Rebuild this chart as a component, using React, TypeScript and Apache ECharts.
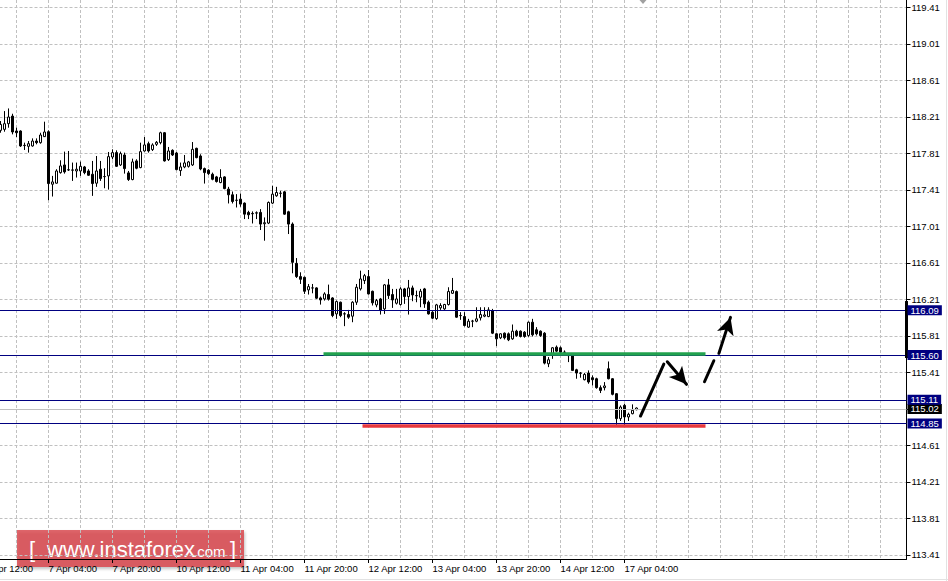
import React, { useEffect, useRef } from "react";
import * as echarts from "echarts";

// ---- data (H1 bars, bar index 0 = 6 Apr 12:00) ----
const firstBar = 4;

const opens = [
  118.062, 118.073, 118.135, 118.218, 118.055, 118.055, 117.898, 117.887, 117.891, 117.945,
  117.927, 117.993, 118.047, 117.472, 117.483, 117.599, 117.683, 117.630, 117.628, 117.617,
  117.617, 117.661, 117.617, 117.581, 117.483, 117.636, 117.556, 117.563, 117.770, 117.818,
  117.683, 117.792, 117.596, 117.523, 117.727, 117.654, 117.836, 117.916, 117.851, 117.909,
  117.927, 118.036, 117.741, 117.843, 117.814, 117.621, 117.661, 117.668, 117.683, 117.865,
  117.781, 117.643, 117.625, 117.581, 117.552, 117.490, 117.552, 117.418, 117.356, 117.297,
  117.308, 117.265, 117.163, 117.152, 117.155, 117.163, 117.039, 117.046, 117.265, 117.345,
  117.374, 117.388, 117.170, 117.035, 116.605, 116.460, 116.452, 116.314, 116.336, 116.336,
  116.226, 116.215, 116.263, 116.226, 116.051, 116.179, 116.052, 116.044, 116.026, 116.179,
  116.325, 116.416, 116.460, 116.299, 116.150, 116.215, 116.106, 116.369, 116.263, 116.168,
  116.154, 116.325, 116.241, 116.336, 116.252, 116.234, 116.325, 116.179, 116.070, 116.000,
  116.117, 116.106, 116.154, 116.277, 116.296, 116.034, 116.022, 115.906, 115.971, 115.971,
  116.008, 116.026, 116.022, 116.088, 115.833, 115.789, 115.840, 115.833, 115.778, 115.862,
  115.862, 115.851, 115.815, 115.960, 115.877, 115.862, 115.840, 115.505, 115.607, 115.687,
  115.680, 115.632, 115.596, 115.596, 115.439, 115.403, 115.330, 115.403, 115.352, 115.341,
  115.243, 115.243, 115.450, 115.341, 115.177, 114.904, 115.049, 114.922, 114.958, 115.002,
];

const closes = [
  118.127, 118.135, 118.208, 118.044, 118.036, 117.891, 117.895, 117.916, 117.945, 117.927,
  118.011, 118.044, 117.479, 117.497, 117.617, 117.672, 117.607, 117.628, 117.626, 117.636,
  117.668, 117.599, 117.570, 117.479, 117.617, 117.534, 117.555, 117.774, 117.818, 117.668,
  117.807, 117.643, 117.523, 117.716, 117.647, 117.829, 117.902, 117.836, 117.902, 117.931,
  118.036, 117.727, 117.836, 117.792, 117.632, 117.661, 117.705, 117.716, 117.854, 117.763,
  117.639, 117.599, 117.588, 117.526, 117.501, 117.545, 117.424, 117.356, 117.283, 117.295,
  117.254, 117.144, 117.137, 117.148, 117.159, 117.035, 117.050, 117.272, 117.363, 117.381,
  117.372, 117.144, 117.035, 116.616, 116.460, 116.430, 116.299, 116.350, 116.335, 116.223,
  116.204, 116.270, 116.212, 116.033, 116.186, 116.033, 116.050, 116.015, 116.179, 116.343,
  116.434, 116.470, 116.270, 116.172, 116.197, 116.088, 116.369, 116.252, 116.204, 116.215,
  116.325, 116.241, 116.336, 116.259, 116.250, 116.299, 116.161, 116.051, 116.004, 116.150,
  116.143, 116.154, 116.296, 116.307, 116.015, 116.032, 115.924, 115.971, 115.973, 115.997,
  116.044, 116.040, 116.095, 115.840, 115.778, 115.833, 115.789, 115.767, 115.862, 115.815,
  115.804, 115.804, 115.960, 115.822, 115.833, 115.815, 115.512, 115.549, 115.680, 115.643,
  115.632, 115.630, 115.594, 115.432, 115.403, 115.401, 115.388, 115.305, 115.330, 115.243,
  115.213, 115.262, 115.341, 115.170, 114.904, 115.031, 114.922, 114.951, 114.995, 115.020,
];

const lows = [
  118.036, 118.047, 118.091, 118.018, 117.989, 117.880, 117.847, 117.818, 117.883, 117.909,
  117.916, 117.989, 117.297, 117.337, 117.479, 117.588, 117.588, 117.617, 117.508, 117.545,
  117.563, 117.581, 117.563, 117.344, 117.443, 117.508, 117.428, 117.413, 117.745, 117.661,
  117.672, 117.588, 117.508, 117.515, 117.636, 117.647, 117.829, 117.818, 117.836, 117.891,
  117.909, 117.720, 117.727, 117.781, 117.625, 117.563, 117.647, 117.654, 117.672, 117.756,
  117.625, 117.479, 117.574, 117.515, 117.490, 117.483, 117.417, 117.261, 117.261, 117.217,
  117.225, 117.090, 117.090, 117.042, 117.090, 116.970, 116.853, 117.035, 117.254, 117.334,
  117.327, 117.137, 116.926, 116.496, 116.445, 116.379, 116.270, 116.263, 116.277, 116.215,
  116.153, 116.197, 116.197, 116.015, 115.997, 116.015, 115.917, 115.997, 115.960, 116.150,
  116.307, 116.379, 116.263, 116.143, 116.124, 116.044, 116.051, 116.215, 116.117, 116.154,
  116.143, 116.161, 116.044, 116.190, 116.179, 116.124, 116.117, 116.044, 115.993, 115.986,
  116.095, 116.095, 116.143, 116.270, 116.008, 115.986, 115.913, 115.898, 115.906, 115.960,
  115.979, 116.015, 116.015, 115.830, 115.698, 115.775, 115.771, 115.753, 115.767, 115.800,
  115.793, 115.790, 115.800, 115.804, 115.815, 115.800, 115.498, 115.468, 115.559, 115.632,
  115.620, 115.596, 115.523, 115.425, 115.341, 115.352, 115.323, 115.286, 115.268, 115.232,
  115.184, 115.213, 115.334, 115.159, 114.831, 114.878, 114.831, 114.878, 114.951, 114.995,
];

const highs = [
  118.164, 118.273, 118.302, 118.244, 118.091, 118.062, 117.927, 117.945, 117.974, 117.974,
  118.036, 118.157, 118.062, 117.563, 117.636, 117.734, 117.829, 117.836, 117.709, 117.709,
  117.720, 117.672, 117.636, 117.727, 117.781, 117.727, 117.647, 117.825, 117.854, 117.843,
  117.829, 117.818, 117.617, 117.752, 117.745, 117.927, 117.989, 117.938, 117.920, 117.945,
  118.047, 118.044, 117.880, 117.854, 117.825, 117.709, 117.792, 117.727, 117.934, 117.872,
  117.800, 117.654, 117.636, 117.599, 117.563, 117.636, 117.559, 117.443, 117.392, 117.363,
  117.370, 117.272, 117.181, 117.174, 117.174, 117.199, 117.108, 117.283, 117.454, 117.443,
  117.399, 117.399, 117.181, 117.053, 116.663, 116.507, 116.460, 116.379, 116.379, 116.343,
  116.241, 116.288, 116.372, 116.234, 116.197, 116.186, 116.070, 116.095, 116.190, 116.379,
  116.525, 116.489, 116.532, 116.306, 116.215, 116.226, 116.379, 116.434, 116.325, 116.325,
  116.343, 116.336, 116.423, 116.361, 116.306, 116.325, 116.336, 116.197, 116.081, 116.161,
  116.168, 116.161, 116.343, 116.445, 116.307, 116.070, 116.070, 115.997, 115.986, 116.124,
  116.124, 116.124, 116.124, 116.106, 115.840, 115.840, 115.848, 115.848, 115.935, 115.877,
  115.870, 115.862, 115.968, 115.997, 115.906, 115.870, 115.851, 115.578, 115.687, 115.705,
  115.695, 115.651, 115.614, 115.614, 115.450, 115.414, 115.403, 115.432, 115.377, 115.352,
  115.268, 115.304, 115.530, 115.348, 115.184, 115.049, 115.067, 114.969, 115.060, 115.027,
];

const timeLabels = [
  "6 Apr 12:00", "7 Apr 04:00", "7 Apr 20:00", "10 Apr 12:00", "11 Apr 04:00", "11 Apr 20:00",
  "12 Apr 12:00", "13 Apr 04:00", "13 Apr 20:00", "14 Apr 12:00", "17 Apr 04:00",
];
const timeLabelBars = [0, 16, 32, 48, 64, 80, 96, 112, 128, 144, 160];

// grid/tick levels of the price scale
const priceTicks = [
  113.41, 113.81, 114.21, 114.61, 115.01, 115.41, 115.81, 116.21,
  116.61, 117.01, 117.41, 117.81, 118.21, 118.61, 119.01, 119.41,
];
// labelled levels (115.01 is hidden under the bid box in the reference)
const priceLabels = [
  113.41, 113.81, 114.21, 114.61, 115.41, 115.81, 116.21,
  116.61, 117.01, 117.41, 117.81, 118.21, 118.61, 119.01, 119.41,
];

const levelLines = [116.09, 115.6, 115.11, 114.85];
const bidPrice = 115.02;

const greenLevel = 115.615;
const greenSpan = [84.75, 180.25];
const redLevel = 114.83;
const redSpan = [94.5, 180.25];

// hand-drawn arrows, [bar, price]
const arrowFrom = [[164, 114.932], [170.7, 115.527], [180, 115.308], [183.6, 115.619]];
const arrowTo = [[169.83, 115.502], [175.5, 115.28], [182.33, 115.538], [186.5, 116.013]];
const arrowHead = [false, true, false, true];

const axisBar = [116.192, 115.568];

const X_MAX = 230.5;
const Y_MIN = 113.366;
const Y_MAX = 119.49;
const FONT = "'Liberation Sans', Arial, sans-serif";
const NAVY = "#000080";

export default function App() {
  const ref = useRef<HTMLDivElement>(null);

  useEffect(() => {
    if (!ref.current) return;
    const chart = echarts.init(ref.current, undefined, { renderer: "svg" });

    const candleData = opens.map((o, i) => [firstBar + i, o, closes[i], lows[i], highs[i]]);

    const gridDash = { color: "#c0c0c0", width: 1, type: [3, 2] as any };

    const arrowData = arrowFrom.map((f, i) => [
      {
        coord: f,
        symbol: "none",
        lineStyle: { color: "#000", width: 3, type: "solid", cap: "round" },
      },
      {
        coord: arrowTo[i],
        symbol: arrowHead[i] ? "arrow" : "none",
        symbolSize: arrowHead[i] ? [13, 17] : 0,
      },
    ]);

    const boxLabel = (bg: string) => ({
      show: true,
      position: "end",
      distance: 1,
      formatter: (p: any) => p.name,
      backgroundColor: bg,
      color: "#ffffff",
      fontSize: 9.5,
      fontFamily: FONT,
      lineHeight: 9,
      padding: [1, 3, 0, 3],
    });

    // level value -> markLine item; snapped to a pixel row through the axis scale
    const levelItem = (v: number, snap: boolean, color: string) => {
      let y = v;
      if (snap) {
        const px = chart.convertToPixel({ yAxisIndex: 0 }, v) as number;
        y = chart.convertFromPixel({ yAxisIndex: 0 }, Math.round(px - 0.5) + 0.5) as number;
      }
      return {
        yAxis: y,
        name: v.toFixed(2),
        lineStyle: { color, width: 1, type: "solid", opacity: 1 },
        label: boxLabel(color === NAVY ? NAVY : "#000000"),
      };
    };

    const buildOption = (snap: boolean): any => ({
      animation: false,
      backgroundColor: "#ffffff",
      grid: {
        left: -15.5,
        right: 41.5,
        top: 0,
        bottom: 22,
        containLabel: false,
        outerBoundsMode: "none",
      },
      xAxis: [
        {
          type: "value",
          min: 0,
          max: X_MAX,
          position: "bottom",
          axisLine: { show: true, onZero: false, lineStyle: { color: "#000", width: 1 } },
          axisTick: {
            show: true,
            length: 4,
            customValues: timeLabelBars,
            lineStyle: { color: "#000", width: 1 },
          },
          axisLabel: {
            show: true,
            customValues: timeLabelBars,
            formatter: (v: number) => {
              const idx = timeLabelBars.indexOf(Math.round(v));
              return idx >= 0 ? timeLabels[idx] : "";
            },
            align: "left",
            margin: 4,
            color: "#000",
            fontSize: 9.5,
            fontFamily: FONT,
          },
          splitLine: { show: false },
        },
        {
          type: "value",
          min: 0,
          max: X_MAX,
          interval: 8,
          position: "top",
          axisLine: { show: false },
          axisTick: { show: false },
          axisLabel: { show: false },
          splitLine: { show: true, lineStyle: gridDash },
        },
      ],
      yAxis: {
        type: "value",
        position: "right",
        min: Y_MIN,
        max: Y_MAX,
        axisLine: { show: true, onZero: false, lineStyle: { color: "#000", width: 1 } },
        axisTick: {
          show: true,
          length: 4,
          customValues: priceTicks,
          lineStyle: { color: "#000", width: 1 },
        },
        axisLabel: {
          show: true,
          customValues: priceLabels,
          formatter: (v: number) => v.toFixed(2),
          margin: 5,
          color: "#000",
          fontSize: 9.5,
          fontFamily: FONT,
        },
        splitLine: { show: true, lineStyle: gridDash },
      },
      series: [
        {
          type: "line",
          data: [],
          xAxisIndex: 0,
          yAxisIndex: 0,
          silent: true,
          z: 1,
          markLine: {
            silent: true,
            symbol: ["none", "none"],
            animation: false,
            lineStyle: { color: "#c0c0c0", width: 1, type: "solid" },
            label: boxLabel("#000000"),
            data: [levelItem(bidPrice, snap, "#c0c0c0")],
          },
        },
        {
          type: "candlestick",
          xAxisIndex: 0,
          yAxisIndex: 0,
          data: candleData,
          encode: { x: 0, y: [1, 2, 3, 4] },
          barWidth: 2,
          z: 2,
          itemStyle: {
            color: "#ffffff",
            color0: "#000000",
            borderColor: "#000000",
            borderColor0: "#000000",
            borderColorDoji: "#000000",
            borderWidth: 1,
          },
        },
        {
          type: "line",
          data: [],
          xAxisIndex: 0,
          yAxisIndex: 0,
          silent: true,
          z: 3,
          color: NAVY,
          markLine: {
            silent: true,
            symbol: ["none", "none"],
            animation: false,
            lineStyle: { color: NAVY, width: 1, type: "solid" },
            label: boxLabel(NAVY),
            data: levelLines.map((v) => levelItem(v, snap, NAVY)),
          },
        },
        {
          type: "line",
          data: [],
          xAxisIndex: 0,
          yAxisIndex: 0,
          silent: true,
          z: 4,
          markLine: {
            silent: true,
            symbol: ["none", "none"],
            animation: false,
            label: { show: false },
            data: [
              [
                { coord: [greenSpan[0], greenLevel], lineStyle: { color: "#22a24e", width: 3.5, type: "solid" } },
                { coord: [greenSpan[1], greenLevel] },
              ],
              [
                { coord: [redSpan[0], redLevel], lineStyle: { color: "#e8383d", width: 3.5, type: "solid" } },
                { coord: [redSpan[1], redLevel] },
              ],
              [
                { coord: [X_MAX, axisBar[0]], lineStyle: { color: "#000", width: 3, type: "solid" } },
                { coord: [X_MAX, axisBar[1]] },
              ],
            ],
          },
        },
        {
          type: "line",
          data: [],
          xAxisIndex: 0,
          yAxisIndex: 0,
          silent: true,
          z: 5,
          markLine: {
            silent: true,
            symbol: ["none", "none"],
            animation: false,
            label: { show: false },
            lineStyle: { color: "#000", width: 3, type: "solid", cap: "round" },
            data: arrowData,
          },
        },
      ],
      graphic: [
        {
          type: "group",
          id: "wm",
          x: 17,
          y: 530,
          z: 100,
          children: [
            {
              type: "rect",
              shape: { x: 0, y: 0, width: 227, height: 37 },
              style: {
                fill: "rgba(214,60,66,0.78)",
                shadowBlur: 3,
                shadowOffsetX: 1,
                shadowOffsetY: 2,
                shadowColor: "rgba(0,0,0,0.3)",
              },
            },
            {
              type: "text",
              x: 12,
              y: 19,
              style: { text: "[", fill: "#fff", fontSize: 22, fontFamily: FONT, verticalAlign: "middle" },
            },
            {
              type: "text",
              x: 30,
              y: 19,
              style: { text: "www.instaforex", fill: "#fff", fontSize: 22, fontFamily: FONT, verticalAlign: "middle" },
            },
            {
              type: "text",
              x: 176,
              y: 21.5,
              style: { text: ".com", fill: "#fff", fontSize: 15, fontFamily: FONT, verticalAlign: "middle" },
            },
            {
              type: "text",
              x: 213,
              y: 19,
              style: { text: "]", fill: "#fff", fontSize: 22, fontFamily: FONT, verticalAlign: "middle" },
            },
          ],
        },
        {
          type: "polygon",
          id: "chev",
          shape: { points: [[639.5, 0], [646.5, 0], [643, 4]] },
          style: { fill: "#a0a0a0" },
        },
        {
          type: "line",
          id: "bline",
          shape: { x1: 0, y1: 579.5, x2: 948, y2: 579.5 },
          style: { stroke: "#e2e2e2", lineWidth: 1 },
        },
        {
          type: "line",
          id: "rline",
          shape: { x1: 946.5, y1: 0, x2: 946.5, y2: 581 },
          style: { stroke: "#e2e2e2", lineWidth: 1 },
        },
      ],
    });

    chart.setOption(buildOption(false));
    chart.setOption(buildOption(true), { notMerge: true });
    return () => chart.dispose();
  }, []);

  return (
    <div
      ref={ref}
      style={{ position: "absolute", left: 0, top: 0, width: 948, height: 581 }}
    />
  );
}
